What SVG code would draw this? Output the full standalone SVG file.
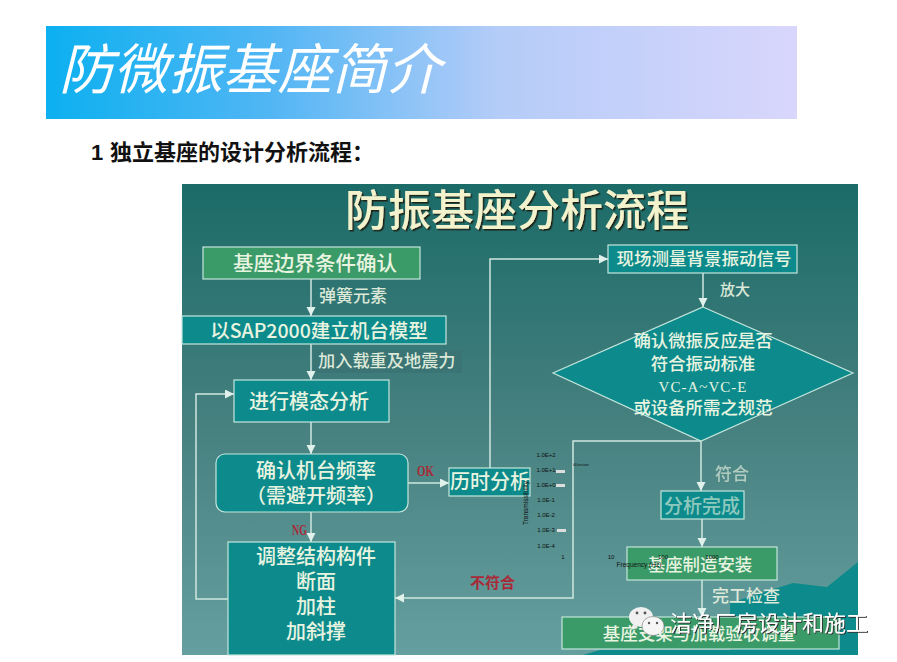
<svg xmlns="http://www.w3.org/2000/svg" width="897" height="662" viewBox="0 0 897 662">
<style>
text{font-family:"Noto Sans CJK SC","Liberation Sans",sans-serif}
.n{fill:#0d8b8c;stroke:#c4e6dc;stroke-width:1.2}
.g{fill:#3a9a68;stroke:#c4e6dc;stroke-width:1.2}
.t{fill:#e8f4e0;font-weight:500;text-anchor:middle}
.l{fill:#dce8d8;font-weight:500}
.r{fill:#a82a38;font-weight:700;font-family:"Liberation Serif",serif}
.c{fill:none;stroke:#cfe6e0;stroke-width:1.5}
.k{fill:#111;font-family:"Liberation Sans",sans-serif;font-size:6px;text-anchor:middle}
</style>
<defs>
<linearGradient id="h" x1="0" x2="1" y1="0" y2="0"><stop offset="0" stop-color="#0cb0f0"/><stop offset=".3" stop-color="#52b6f4"/><stop offset=".6" stop-color="#b4ccf8"/><stop offset="1" stop-color="#d9d6fc"/></linearGradient>
<linearGradient id="b" x1="0" x2="0" y1="0" y2="1"><stop offset="0" stop-color="#1b6b68"/><stop offset=".5" stop-color="#45807f"/><stop offset="1" stop-color="#669f9f"/></linearGradient>
<marker id="a" markerWidth="7" markerHeight="7" refX="6" refY="3" orient="auto"><path d="M0,0L6,3L0,6z" fill="#e0f0ea"/></marker>
<filter id="s" x="-5%" y="-10%" width="110%" height="125%"><feDropShadow dx="1.5" dy="1.5" stdDeviation=".4" flood-color="#1a2418"/></filter>
<filter id="w" x="-5%" y="-10%" width="110%" height="125%"><feDropShadow dx="1" dy="1" stdDeviation=".3" flood-color="#333"/></filter>
</defs>
<rect width="897" height="662" fill="#fff"/>
<rect x="46" y="26" width="751" height="93" fill="url(#h)"/>
<text x="59" y="89" font-size="54.6" fill="#fff" font-style="italic" id="title">防微振基座简介</text>
<text y="160" font-size="22" font-weight="700" fill="#111"><tspan x="91" font-family="Liberation Sans">1</tspan><tspan x="110">独立基座的设计分析流程：</tspan></text>
<rect x="182" y="184" width="676" height="471" fill="url(#b)"/>
<path d="M583,655L600,650L730,650V603L793,583L827,587L858,562V655z" fill="#0d8b8c"/>
<rect x="313" y="350" width="149" height="23" fill="#3a7474"/>
<text x="517" y="226" font-size="43" font-weight="500" fill="#f2f2cc" text-anchor="middle" filter="url(#s)" id="heading">防振基座分析流程</text>
<g id="connectors">
<path class="c" marker-end="url(#a)" d="M311,279V316"/>
<path class="c" marker-end="url(#a)" d="M311,344V380"/>
<path class="c" marker-end="url(#a)" d="M311,422V454"/>
<path class="c" marker-end="url(#a)" d="M408,483H449"/>
<path class="c" marker-end="url(#a)" d="M311,512V542"/>
<path class="c" marker-end="url(#a)" d="M228,599H196V394H234"/>
<path class="c" marker-end="url(#a)" d="M490,468V259H608"/>
<path class="c" marker-end="url(#a)" d="M703,273V307"/>
<path class="c" marker-end="url(#a)" d="M701,441V491"/>
<path class="c" marker-end="url(#a)" d="M702,519V547"/>
<path class="c" marker-end="url(#a)" d="M702,580V617"/>
<path class="c" marker-end="url(#a)" d="M701,441H573V598H395"/>
</g>
<g id="n1"><rect class="g" x="203" y="247" width="217" height="32"/><text class="t" x="315" y="271" font-size="20.5">基座边界条件确认</text></g>
<g id="n2"><rect class="n" x="182" y="316" width="264" height="28"/><text class="t" x="319" y="338" font-size="19.5">以SAP2000建立机台模型</text></g>
<g id="n3"><rect class="n" x="234" y="380" width="155" height="42"/><text class="t" x="309" y="409" font-size="20">进行模态分析</text></g>
<g id="n4"><rect class="n" x="216" y="454" width="192" height="58" rx="9"/><text class="t" x="316" y="478" font-size="20">确认机台频率</text><text class="t" x="316" y="503" font-size="20">（需避开频率）</text></g>
<g id="n5"><rect class="n" x="449" y="468" width="81" height="28"/><text class="t" x="490" y="489" font-size="20">历时分析</text></g>
<g id="n6"><rect class="n" x="228" y="542" width="167" height="113"/><text class="t" x="316" y="564" font-size="20">调整结构构件</text><text class="t" x="316" y="589" font-size="20">断面</text><text class="t" x="316" y="614" font-size="20">加柱</text><text class="t" x="316" y="639" font-size="20">加斜撑</text></g>
<g id="n7"><rect class="n" x="608" y="245" width="189" height="28"/><text class="t" x="704" y="265" font-size="17.5">现场测量背景振动信号</text></g>
<g id="n8"><path class="n" d="M703,307L853,373L701,441L553,373z"/><text class="t" x="703" y="347" font-size="17.4">确认微振反应是否</text><text class="t" x="703" y="370" font-size="17.4">符合振动标准</text><text class="t" x="703" y="392" font-size="15" style="font-family:'Liberation Serif',serif" letter-spacing="1">VC-A~VC-E</text><text class="t" x="703" y="414" font-size="17.4">或设备所需之规范</text></g>
<g id="n9"><rect class="n" x="661" y="491" width="83" height="28"/><text class="t" x="702" y="513" font-size="19" fill-opacity=".6">分析完成</text></g>
<g id="n10"><rect class="g" x="627" y="547" width="150" height="33"/><text class="t" x="700" y="571" font-size="17.4">基座制造安装</text></g>
<g id="n11"><rect class="g" x="562" y="617" width="277" height="32"/><text class="t" x="699" y="640" font-size="17.5">基座支架与加载验收调量</text></g>
<text class="l" x="319" y="302" font-size="17">弹簧元素</text>
<text class="l" x="318" y="367" font-size="17.2">加入载重及地震力</text>
<text class="l" x="720" y="295" font-size="15">放大</text>
<text class="l" x="715" y="480" font-size="17" opacity=".7">符合</text>
<text class="l" x="712" y="602" font-size="17">完工检查</text>
<text class="r" x="417" y="476" font-size="15" textLength="17" lengthAdjust="spacingAndGlyphs">OK</text>
<text class="r" x="292" y="535" font-size="14" textLength="15" lengthAdjust="spacingAndGlyphs">NG</text>
<text class="r" x="470" y="588" font-size="15" style="font-family:'Noto Sans CJK SC',sans-serif">不符合</text>
<g id="chart">
<text class="k" x="546" y="457">1.0E+2</text><text class="k" x="546" y="472">1.0E+1</text><text class="k" x="546" y="487">1.0E+0</text><text class="k" x="546" y="502">1.0E-1</text><text class="k" x="546" y="517">1.0E-2</text><text class="k" x="546" y="532">1.0E-3</text><text class="k" x="546" y="548">1.0E-4</text>
<rect x="556" y="470" width="9" height="3" fill="#ddd"/><rect x="556" y="484" width="9" height="3" fill="#ddd"/><rect x="557" y="529" width="9" height="3" fill="#ddd"/>
<text class="k" x="581" y="466" style="font-size:3.5px">kDirection</text>
<text class="k" x="563" y="559">1</text><text class="k" x="611" y="559">10</text><text class="k" x="663" y="559">100</text><text class="k" x="712" y="559">1000</text>
<text class="k" x="639" y="567" style="font-size:6.5px">Frequency (Hz)</text>
<text class="k" transform="translate(528,503) rotate(-90)" style="font-size:6.5px">Transmissibility</text>
</g>
<g id="watermark">
<ellipse cx="641" cy="617" rx="12" ry="10" fill="#f0f0f0"/><path d="M633,624l-2,6l7,-3z" fill="#f0f0f0"/>
<ellipse cx="653" cy="626" rx="11" ry="9.5" fill="#f6f6f6" stroke="#777" stroke-width=".6"/><path d="M658,633l4,5l-1,-6z" fill="#f6f6f6"/>
<circle cx="637" cy="613" r="1.4" fill="#555"/><circle cx="645" cy="613" r="1.4" fill="#555"/><circle cx="649" cy="623" r="1.2" fill="#555"/><circle cx="657" cy="623" r="1.2" fill="#555"/>
<text x="670" y="631" font-size="22" fill="#fff" filter="url(#w)">洁净厂房设计和施工</text>
</g>
</svg>
